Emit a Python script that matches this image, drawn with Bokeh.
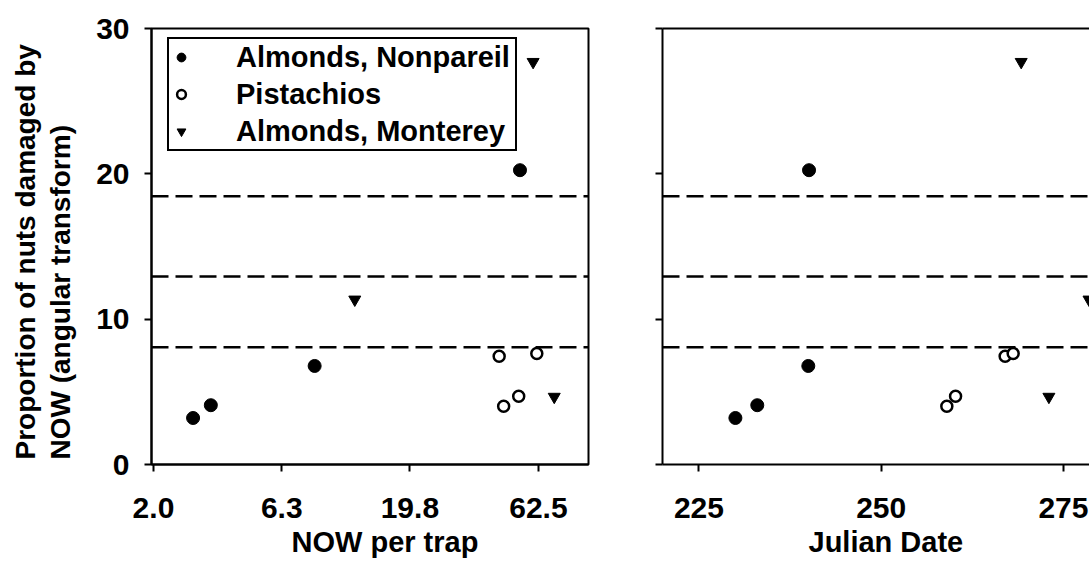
from bokeh.plotting import figure
from bokeh.layouts import row
from bokeh.models import (Range1d, FixedTicker, PrintfTickFormatter, Span, Title,
                          Legend, LegendItem, LinearAxis, CustomJSTickFormatter)
from bokeh.embed import file_html
from bokeh.resources import INLINE

# ---------------- data ----------------
series_names = ["Almonds, Nonpareil", "Pistachios", "Almonds, Monterey"]

nonpareil_trap = [2.85, 3.34, 8.45, 53.0]
nonpareil_date = [230.0, 233.0, 240.0, 240.1]
nonpareil_damage = [3.2, 4.08, 6.78, 20.25]

pistachio_trap = [44.0, 45.8, 52.4, 61.6]
pistachio_date = [267.0, 259.0, 260.2, 268.1]
pistachio_damage = [7.45, 4.01, 4.70, 7.64]

monterey_trap = [59.6, 12.1, 72.0]
monterey_date = [269.2, 278.5, 273.0]
monterey_damage = [27.7, 11.35, 4.66]

threshold_levels = [8.07, 12.93, 18.45]

trap_ticks = [2.0, 6.3, 19.8, 62.5]
date_ticks = [225, 250, 275]
damage_ticks = [0, 10, 20, 30]

y_title_1 = "Proportion of nuts damaged by"
y_title_2 = "NOW (angular transform)"
x_title_left = "NOW per trap"
x_title_right = "Julian Date"

FONT = "Liberation Sans"
TICK_FS = "30px"
TITLE_FS = "29px"
YTITLE_FS = "28px"


def style_axis(ax, standoff=15):
    ax.axis_line_width = 2
    ax.axis_line_color = "black"
    ax.major_tick_line_width = 2
    ax.major_tick_line_color = "black"
    ax.major_tick_out = 7
    ax.major_tick_in = 0
    ax.minor_tick_line_color = None
    ax.major_label_text_font = FONT
    ax.major_label_text_font_size = TICK_FS
    ax.major_label_text_font_style = "bold"
    ax.major_label_text_color = "black"
    ax.major_label_standoff = standoff


def add_common(p, xs_list):
    for lv in threshold_levels:
        p.add_layout(Span(location=lv, dimension="width", line_color="black",
                          line_width=2.5, line_dash="17 7"))
    xn, xp, xm = xs_list
    r1 = p.scatter(xn, nonpareil_damage, marker="circle", size=13,
                   fill_color="black", line_color="black")
    r2 = p.scatter(xp, pistachio_damage, marker="circle", size=11,
                   fill_color="white", line_color="black", line_width=2.5)
    r3 = p.scatter(xm, monterey_damage, marker="inverted_triangle", size=12,
                   fill_color="black", line_color="black")
    return r1, r2, r3


def add_x_title(p, text, offset):
    p.add_layout(Title(text=text, align="left", offset=offset,
                       vertical_align="top", standoff=10,
                       text_font=FONT, text_font_size=TITLE_FS,
                       text_font_style="bold", text_color="black"), "below")


# ---------------- left panel ----------------
p1 = figure(width=620, height=565, x_axis_type="log",
            x_range=Range1d(1.965, 97.8), y_range=Range1d(0, 30),
            output_backend="svg", toolbar_location=None,
            min_border_left=151, min_border_right=32,
            min_border_top=28, min_border_bottom=101)
p1.grid.visible = False
p1.outline_line_color = "black"
p1.outline_line_width = 2
p1.background_fill_color = "white"
p1.border_fill_color = "white"
style_axis(p1.xaxis[0], 26)
style_axis(p1.yaxis[0])
p1.xaxis[0].ticker = FixedTicker(ticks=trap_ticks)
p1.xaxis[0].formatter = PrintfTickFormatter(format="%.1f")
p1.yaxis[0].ticker = FixedTicker(ticks=damage_ticks)

# invisible spacer between the tick labels and the two-line y title
spacer = LinearAxis(ticker=FixedTicker(ticks=[15]), axis_line_color=None,
                    major_tick_out=18, major_tick_in=0, major_tick_line_color=None,
                    minor_tick_out=0, minor_tick_in=0, minor_tick_line_color=None,
                    major_label_standoff=0, major_label_text_font_size="1px",
                    formatter=CustomJSTickFormatter(code="return ''"))
p1.add_layout(spacer, "left")
for txt, so in ((y_title_2, 0), (y_title_1, 4)):
    p1.add_layout(Title(text=txt, align="left", offset=5, vertical_align="bottom",
                        standoff=so, text_font=FONT, text_font_size=YTITLE_FS,
                        text_font_style="bold", text_color="black"), "left")

r1, r2, r3 = add_common(p1, (nonpareil_trap, pistachio_trap, monterey_trap))

legend = Legend(items=[LegendItem(label=series_names[0], renderers=[r1]),
                       LegendItem(label=series_names[1], renderers=[r2]),
                       LegendItem(label=series_names[2], renderers=[r3])],
                location=(16, 313), margin=0, padding=1, spacing=3,
                glyph_width=22, glyph_height=34, label_height=34,
                label_width=278, label_standoff=44,
                label_text_font=FONT, label_text_font_size="29px",
                label_text_font_style="bold", label_text_color="black",
                border_line_color="black", border_line_width=2,
                border_line_alpha=1.0,
                background_fill_color="white", background_fill_alpha=1.0)
p1.add_layout(legend)

add_x_title(p1, x_title_left, 140)

# ---------------- right panel ----------------
p2 = figure(width=469, height=565,
            x_range=Range1d(220.0, 278.57), y_range=Range1d(0, 30),
            output_backend="svg", toolbar_location=None,
            min_border_left=42, min_border_right=0,
            min_border_top=28, min_border_bottom=101)
p2.grid.visible = False
p2.outline_line_color = None
p2.background_fill_color = "white"
p2.border_fill_color = "white"
style_axis(p2.xaxis[0], 26)
style_axis(p2.yaxis[0])
p2.xaxis[0].ticker = FixedTicker(ticks=date_ticks)
p2.yaxis[0].ticker = FixedTicker(ticks=damage_ticks)
p2.yaxis[0].formatter = CustomJSTickFormatter(code="return ''")
top_axis = LinearAxis(ticker=FixedTicker(ticks=[]), axis_line_width=2,
                      axis_line_color="black", major_tick_out=0, major_tick_in=0,
                      minor_tick_line_color=None,
                      formatter=CustomJSTickFormatter(code="return ''"))
p2.add_layout(top_axis, "above")

add_common(p2, (nonpareil_date, pistachio_date, monterey_date))

add_x_title(p2, x_title_right, 146)

layout = row(p1, p2)
open("out.html", "w").write(file_html(layout, INLINE))
